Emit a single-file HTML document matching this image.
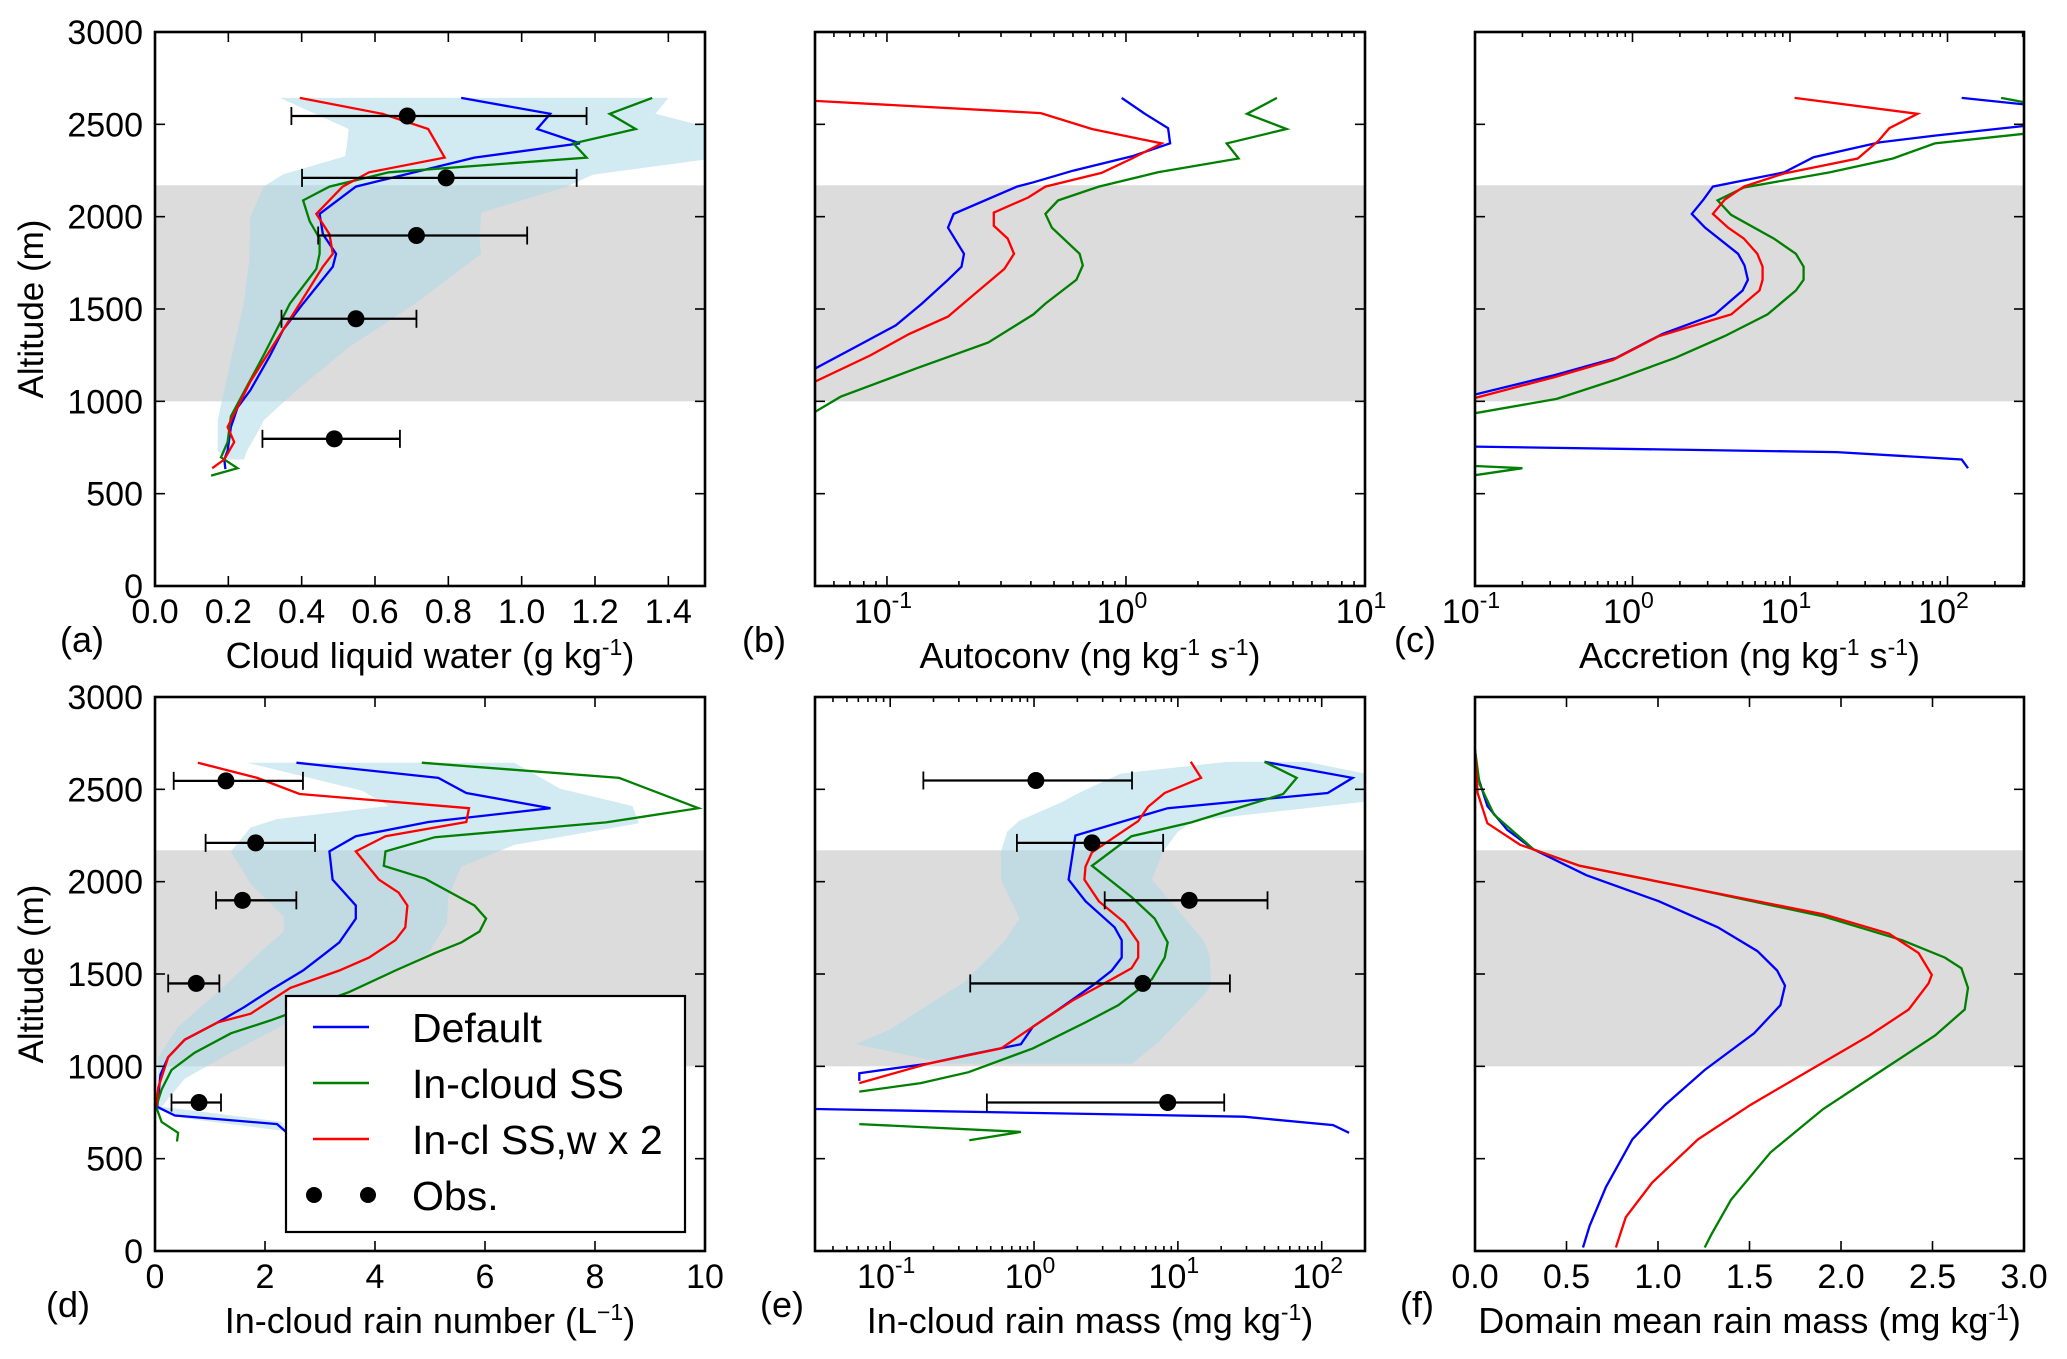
<!DOCTYPE html>
<html><head><meta charset="utf-8">
<style>
html,body{margin:0;padding:0;background:#fff;}
svg{display:block;font-family:"Liberation Sans","DejaVu Sans",sans-serif;}
</style></head>
<body>
<svg id="fig" width="2067" height="1359" viewBox="0 0 2067 1359" xmlns="http://www.w3.org/2000/svg"></svg>
<script>
// ---------- Panel (a) cloud liquid water ----------
const aBlueAlt=[2643,2557,2475,2397,2320,2163,2015,1905,1799,1729,1529,1389,1248,1060,966,861,732,685,633];
const aBlueVal=[0.835,1.078,1.042,1.159,0.871,0.548,0.449,0.458,0.494,0.485,0.404,0.350,0.314,0.260,0.225,0.207,0.198,0.189,0.192];
const aRedAlt=[2643,2557,2475,2320,2240,2163,2015,1905,1799,1729,1529,1389,1248,1107,861,779,685,638];
const aRedVal=[0.395,0.620,0.745,0.790,0.584,0.512,0.440,0.476,0.485,0.458,0.395,0.350,0.305,0.260,0.198,0.216,0.189,0.156];
const aGreenAlt=[2643,2557,2475,2397,2320,2240,2163,2088,1975,1881,1799,1717,1623,1529,1248,919,779,697,638,598];
const aGreenVal=[1.356,1.240,1.311,1.141,1.177,0.638,0.476,0.404,0.422,0.449,0.449,0.440,0.404,0.368,0.296,0.207,0.198,0.180,0.225,0.153];
const aShadeLoAlt=[2643,2475,2397,2327,2230,2163,1998,1764,1529,1295,1060,896,732,685];
const aShadeLo=[0.341,0.528,0.524,0.519,0.350,0.296,0.260,0.257,0.242,0.215,0.189,0.171,0.171,0.198];
const aShadeHiAlt=[2643,2557,2463,2322,2228,2163,2022,1881,1799,1717,1529,1295,1060,896,826,732,685];
const aShadeHi=[1.40,1.365,1.55,1.55,1.195,1.123,0.89,0.885,0.889,0.835,0.710,0.530,0.386,0.296,0.278,0.251,0.242];
const aObsAlt=[2545,2210,1898,1447,797];
const aObsVal=[0.688,0.794,0.713,0.548,0.489];
const aObsLo=[0.372,0.401,0.445,0.345,0.293];
const aObsHi=[1.177,1.150,1.015,0.713,0.668];
const aTicks=["0.0","0.2","0.4","0.6","0.8","1.0","1.2","1.4"];
// ---------- Panel (b) autoconversion ----------
const bRedAlt=[2627,2561,2475,2397,2315,2237,2163,2104,2022,1951,1881,1799,1717,1576,1459,1365,1248,1107];
const bRedVal=[0.050,0.44,0.72,1.41,1.06,0.79,0.46,0.39,0.28,0.28,0.32,0.34,0.31,0.23,0.18,0.124,0.085,0.050];
const bBlueAlt=[2643,2557,2479,2397,2327,2249,2186,2163,2015,1940,1799,1729,1658,1529,1412,1295,1177];
const bBlueVal=[0.96,1.20,1.50,1.53,1.06,0.60,0.41,0.35,0.19,0.18,0.21,0.205,0.18,0.14,0.109,0.074,0.050];
const bGreenAlt=[2643,2557,2475,2397,2315,2240,2163,2088,2015,1940,1799,1736,1658,1529,1471,1318,1177,1025,943];
const bGreenVal=[4.28,3.21,4.70,2.64,2.96,1.36,0.77,0.52,0.46,0.49,0.64,0.66,0.62,0.46,0.41,0.265,0.132,0.064,0.050];
// ---------- Panel (c) accretion ----------
const cRedAlt=[2643,2557,2479,2409,2315,2233,2163,2092,2015,1940,1881,1799,1729,1658,1600,1471,1353,1224,1131,1018];
const cRedVal=[10.7,64.6,42.7,36.3,26.9,9.1,5.1,3.85,3.24,4.05,5.1,6.2,6.7,6.7,6.4,4.24,1.47,0.75,0.32,0.10];
const cBlueAlt=[2643,2608,2560,2491,2439,2402,2322,2240,2163,2092,2015,1940,1799,1736,1658,1600,1471,1365,1236,1142,1037,900,755,725,685,638];
const cBlueVal=[123,306,null,306,83,37,14.1,9.2,3.24,2.82,2.38,2.89,4.68,5.14,5.4,5.0,3.34,1.55,0.79,0.32,0.10,null,0.10,19.8,123,135];
const cGreenAlt=[2643,2620,2540,2449,2397,2315,2240,2158,2088,2010,1881,1799,1729,1658,1600,1471,1353,1236,1119,1013,936,800,650,638,600];
const cGreenVal=[219,306,null,306,83,45,18,5.1,3.47,4.22,7.9,10.9,12.2,12.2,10.9,7.2,3.85,1.87,0.79,0.33,0.10,null,0.10,0.20,0.10];
// ---------- Panel (d) rain number ----------
const dBlueAlt=[2644,2562,2480,2398,2323,2246,2164,2011,1871,1800,1671,1601,1519,1413,1320,1238,1144,1050,956,781,734,687,640];
const dBlueVal=[2.57,5.15,5.66,7.19,4.97,3.65,3.17,3.23,3.65,3.65,3.35,3.05,2.69,2.10,1.62,1.14,0.54,0.24,0.10,0.04,0.36,2.22,2.40];
const dRedAlt=[2644,2562,2475,2398,2323,2246,2164,2011,1941,1871,1753,1683,1589,1519,1425,1285,1238,1144,1050,886,781];
const dRedVal=[0.78,1.86,2.63,5.71,5.66,4.19,3.65,4.07,4.43,4.59,4.55,4.37,3.89,3.35,2.46,1.74,1.14,0.54,0.24,0.06,0.02];
const dGreenAlt=[2644,2562,2398,2321,2241,2164,2086,2016,1871,1800,1730,1671,1613,1519,1402,1249,1179,1074,980,874,781,699,640,593];
const dGreenVal=[4.85,8.44,9.88,8.20,5.09,4.19,4.16,4.91,5.81,6.02,5.90,5.57,5.09,4.37,3.53,2.10,1.38,0.72,0.30,0.12,0.02,0.12,0.42,0.40];
const dShadeLoAlt=[2644,2492,2410,2339,2293,2164,1988,1812,1730,1636,1402,1214,1050,769,720,652];
const dShadeLo=[1.68,3.77,4.25,2.21,1.74,1.38,1.74,2.34,2.34,1.98,1.14,0.42,0.06,0.02,0.5,2.3];
const dShadeHiAlt=[2644,2503,2410,2316,2199,2081,1917,1777,1613,1449,1261,1074,933,781,700,652];
const dShadeHi=[6.53,7.37,8.68,8.80,6.53,5.57,5.33,5.31,4.97,3.89,2.57,1.38,0.54,0.12,2.3,2.4];
const dObsAlt=[2546,2210,1899,1449,804];
const dObsVal=[1.29,1.83,1.59,0.75,0.80];
const dObsLo=[0.34,0.92,1.11,0.24,0.30];
const dObsHi=[2.69,2.91,2.57,1.17,1.20];
const dTicks=["0","2","4","6","8","10"];
// ---------- Panel (e) rain mass ----------
const eBlueAlt=[2649,2562,2480,2398,2250,2011,1894,1753,1683,1589,1519,1449,1308,1214,1120,1062,1015,963,921,850,769,727,682,640];
const eBlueVal=[40,164,110,8.5,1.94,1.74,2.28,3.63,4.07,4.07,3.47,2.67,1.48,0.98,0.81,0.35,0.184,0.061,0.061,null,0.03,28.8,120,155];
const eRedAlt=[2649,2562,2480,2405,2328,2159,2081,2011,1894,1777,1671,1589,1531,1472,1355,1214,1097,1015,909];
const eRedVal=[12.3,14.5,8.1,6.2,5.3,2.53,2.28,2.24,2.82,4.27,5.3,5.3,4.76,3.47,1.84,0.98,0.59,0.184,0.061];
const eGreenAlt=[2649,2562,2475,2321,2246,2086,1917,1800,1671,1589,1472,1331,1238,1097,968,909,863,780,687,645,600];
const eGreenVal=[40,67,54,12.4,4.76,2.53,4.76,6.9,8.5,8.1,6.6,3.86,2.28,0.98,0.35,0.163,0.061,null,0.061,0.81,0.355];
const eShadeAlt=[2649,2585,2480,2433,2330,2270,2164,2011,1800,1683,1600,1449,1400,1200,1120,1015];
const eShadeLo=[21.9,4.0,2.04,1.58,0.79,0.65,0.59,0.59,0.79,0.63,0.50,0.32,0.25,0.10,0.058,0.25];
const eShadeHi=[79,200,200,200,12.9,10,7.9,6.6,11.2,15.1,16.6,17,15.8,8.9,7.1,4.8];
const eObsAlt=[2548,2210,1899,1449,804];
const eObsVal=[1.03,2.53,12,5.7,8.5];
const eObsLo=[0.17,0.76,3.1,0.36,0.47];
const eObsHi=[4.8,7.9,42,23,21];
// ---------- Panel (f) domain mean rain mass ----------
const fBlueAlt=[2714,2574,2410,2281,2175,2035,1894,1753,1624,1519,1437,1331,1179,980,792,605,347,136,19];
const fBlueVal=[0,0.014,0.068,0.176,0.32,0.608,1.004,1.327,1.543,1.651,1.694,1.669,1.525,1.255,1.04,0.86,0.716,0.626,0.59];
const fRedAlt=[2714,2480,2316,2199,2086,1964,1824,1718,1613,1495,1449,1308,1167,980,792,605,370,183,19];
const fRedVal=[0,0.014,0.068,0.248,0.572,1.183,1.903,2.263,2.424,2.496,2.478,2.37,2.155,1.831,1.507,1.219,0.968,0.824,0.77];
const fGreenAlt=[2714,2527,2363,2175,2086,1964,1812,1683,1589,1531,1425,1308,1167,980,769,534,277,89,19];
const fGreenVal=[0,0.025,0.104,0.32,0.572,1.183,1.903,2.334,2.568,2.658,2.694,2.676,2.514,2.227,1.903,1.615,1.399,1.291,1.255];
const fTicks=["0.0","0.5","1.0","1.5","2.0","2.5","3.0"];
const yTicks=[0,500,1000,1500,2000,2500,3000];
const bandLow=1000, bandHigh=2170;

const NS="http://www.w3.org/2000/svg";
const svg=document.getElementById('fig');
function el(tag,attrs,parent){const e=document.createElementNS(NS,tag);for(const k in attrs)e.setAttribute(k,attrs[k]);(parent||svg).appendChild(e);return e;}

function makePanel(id,x0,x1,y0,y1,log,dmin,dmax){
  const p={id,x0,x1,y0,y1,log,dmin,dmax};
  p.sx=v=>log? x0+(Math.log10(v)-Math.log10(dmin))/(Math.log10(dmax)-Math.log10(dmin))*(x1-x0) : x0+(v-dmin)/(dmax-dmin)*(x1-x0);
  p.sy=a=>y1-a/3000*(y1-y0);
  p.g=el('g',{});
  
  
  const cp=el('clipPath',{id:'clip-'+id},p.g);
  el('rect',{x:x0,y:y0,width:x1-x0,height:y1-y0},cp);
  p.inner=el('g',{'clip-path':'url(#clip-'+id+')'},p.g);
  const band=el('rect',{x:x0,y:p.sy(bandHigh),width:x1-x0,height:p.sy(bandLow)-p.sy(bandHigh),fill:'#dcdcdc'},p.inner);
  
  
  return p;
}
function shade(p,loAlt,lo,hiAlt,hi){
  let pts=[];
  for(let i=0;i<lo.length;i++)pts.push(p.sx(lo[i])+','+p.sy(loAlt[i]));
  for(let i=hi.length-1;i>=0;i--)pts.push(p.sx(hi[i])+','+p.sy(hiAlt[i]));
  const s=el('polygon',{points:pts.join(' '),fill:'#add8e6','fill-opacity':0.55},p.inner);
  
  
}
function series(p,alt,val,color,name){
  let d='',pen=false;
  for(let i=0;i<val.length;i++){
    if(val[i]===null){pen=false;continue;}
    d+=(pen?'L':'M')+p.sx(val[i]).toFixed(1)+' '+p.sy(alt[i]).toFixed(1)+' ';pen=true;
  }
  const l=el('path',{d,fill:'none',stroke:color,'stroke-width':2.3,'stroke-linejoin':'miter'},p.inner);
  
  
}
function obs(p,alt,val,lo,hi){
  for(let i=0;i<val.length;i++){
    const y=p.sy(alt[i]);
    const g=el('g',{},p.inner);
    
    
    el('line',{x1:p.sx(lo[i]),x2:p.sx(hi[i]),y1:y,y2:y,stroke:'#000','stroke-width':2.3},g);
    el('line',{x1:p.sx(lo[i]),x2:p.sx(lo[i]),y1:y-9,y2:y+9,stroke:'#000','stroke-width':1.8},g);
    el('line',{x1:p.sx(hi[i]),x2:p.sx(hi[i]),y1:y-9,y2:y+9,stroke:'#000','stroke-width':1.8},g);
    el('circle',{cx:p.sx(val[i]),cy:y,r:8.5,fill:'#000'},g);
  }
}
function frame(p,xTickVals,xLabels,showY,label,labelParts,panelLetter,letterX){
  const g=p.g;
  el('rect',{x:p.x0,y:p.y0,width:p.x1-p.x0,height:p.y1-p.y0,fill:'none',stroke:'#000','stroke-width':2.6},g);
  yTicks.forEach(a=>{
    const y=p.sy(a);
    el('line',{x1:p.x0,x2:p.x0+10,y1:y,y2:y,stroke:'#000','stroke-width':1.6},g);
    el('line',{x1:p.x1,x2:p.x1-10,y1:y,y2:y,stroke:'#000','stroke-width':1.6},g);
    if(showY){
      const t=el('text',{x:143,y:y+12,'font-size':34,'text-anchor':'end'},g);
      t.textContent=String(a);
      
      
    }
  });
  const lblY=p.y1+37;
  if(p.log){
    const lmin=Math.log10(p.dmin),lmax=Math.log10(p.dmax);
    for(let e=Math.floor(lmin);e<=Math.ceil(lmax);e++){
      for(let m=1;m<10;m++){
        const v=m*Math.pow(10,e);
        if(Math.log10(v)<lmin-1e-6||Math.log10(v)>lmax+1e-6)continue;
        const x=p.sx(v),len=m===1?10:5;
        el('line',{x1:x,x2:x,y1:p.y1,y2:p.y1-len,stroke:'#000','stroke-width':1.6},g);
        el('line',{x1:x,x2:x,y1:p.y0,y2:p.y0+len,stroke:'#000','stroke-width':1.6},g);
      }
    }
    xTickVals.forEach((v,i)=>{
      const t=el('text',{x:p.sx(v)-4,y:lblY,'font-size':34,'text-anchor':'middle'},g);
      
      
      t.appendChild(document.createTextNode('10'));
      const s=el('tspan',{dy:-15,'font-size':23},t);s.textContent=xLabels[i];
    });
  } else {
    xTickVals.forEach((v,i)=>{
      const x=p.sx(v);
      el('line',{x1:x,x2:x,y1:p.y1,y2:p.y1-10,stroke:'#000','stroke-width':1.6},g);
      el('line',{x1:x,x2:x,y1:p.y0,y2:p.y0+10,stroke:'#000','stroke-width':1.6},g);
      const t=el('text',{x:x,y:lblY,'font-size':34,'text-anchor':'middle'},g);
      t.textContent=xLabels[i];
      
      
    });
  }
  const xl=el('text',{x:(p.x0+p.x1)/2,y:p.y1+82,'font-size':36,'text-anchor':'middle'},g);
  
  
  labelParts.forEach(part=>{
    const s=el('tspan',part[1]?{dy:part[1],'font-size':part[1]<0?23:36}:{},xl);s.textContent=part[0];
  });
  const pl=el('text',{x:letterX,y:p.y1+66,'font-size':36},g);
  pl.textContent=panelLetter;
  
  
  if(showY){
    const yc=(p.y0+p.y1)/2;
    const yl=el('text',{x:0,y:0,'font-size':35,'text-anchor':'middle',transform:`translate(43,${yc}) rotate(-90)`},g);
    yl.textContent='Altitude (m)';
    
    
  }
}
const gkg=[["Cloud liquid water (g kg"],["-1",-13],[")",13]];
const ngks=(w)=>[[w+" (ng kg"],["-1",-13],[" s",13],["-1",-13],[")",13]];

const pa=makePanel('a',155,705,32,586,false,0,1.5);
shade(pa,aShadeLoAlt,aShadeLo,aShadeHiAlt,aShadeHi);
series(pa,aBlueAlt,aBlueVal,'#0000ff','default-line');
series(pa,aGreenAlt,aGreenVal,'#008000','in-cloud-ss-line');
series(pa,aRedAlt,aRedVal,'#ff0000','in-cl-ss-w2-line');
obs(pa,aObsAlt,aObsVal,aObsLo,aObsHi);
frame(pa,[0,0.2,0.4,0.6,0.8,1.0,1.2,1.4],aTicks,true,'',gkg,'(a)',60);

const pb=makePanel('b',815,1365,32,586,true,0.05,10);
series(pb,bBlueAlt,bBlueVal,'#0000ff','default-line');
series(pb,bGreenAlt,bGreenVal,'#008000','in-cloud-ss-line');
series(pb,bRedAlt,bRedVal,'#ff0000','in-cl-ss-w2-line');
frame(pb,[0.1,1,10],["-1","0","1"],false,'',ngks('Autoconv'),'(b)',742);

const pc=makePanel('c',1475,2024,32,586,true,0.1,306);
series(pc,cBlueAlt,cBlueVal,'#0000ff','default-line');
series(pc,cGreenAlt,cGreenVal,'#008000','in-cloud-ss-line');
series(pc,cRedAlt,cRedVal,'#ff0000','in-cl-ss-w2-line');
frame(pc,[0.1,1,10,100],["-1","0","1","2"],false,'',ngks('Accretion'),'(c)',1394);

const pd=makePanel('d',155,705,697,1251,false,0,10);
shade(pd,dShadeLoAlt,dShadeLo,dShadeHiAlt,dShadeHi);
series(pd,dBlueAlt,dBlueVal,'#0000ff','default-line');
series(pd,dGreenAlt,dGreenVal,'#008000','in-cloud-ss-line');
series(pd,dRedAlt,dRedVal,'#ff0000','in-cl-ss-w2-line');
obs(pd,dObsAlt,dObsVal,dObsLo,dObsHi);
frame(pd,[0,2,4,6,8,10],dTicks,true,'',[["In-cloud rain number (L"],["\u22121",-13],[")",13]],'(d)',46);

const pe=makePanel('e',815,1365,697,1251,true,0.03,200);
shade(pe,eShadeAlt,eShadeLo,eShadeAlt,eShadeHi);
series(pe,eBlueAlt,eBlueVal,'#0000ff','default-line');
series(pe,eGreenAlt,eGreenVal,'#008000','in-cloud-ss-line');
series(pe,eRedAlt,eRedVal,'#ff0000','in-cl-ss-w2-line');
obs(pe,eObsAlt,eObsVal,eObsLo,eObsHi);
frame(pe,[0.1,1,10,100],["-1","0","1","2"],false,'',[["In-cloud rain mass (mg kg"],["-1",-13],[")",13]],'(e)',760);

const pf=makePanel('f',1475,2024,697,1251,false,0,3);
series(pf,fBlueAlt,fBlueVal,'#0000ff','default-line');
series(pf,fGreenAlt,fGreenVal,'#008000','in-cloud-ss-line');
series(pf,fRedAlt,fRedVal,'#ff0000','in-cl-ss-w2-line');
frame(pf,[0,0.5,1,1.5,2,2.5,3],fTicks,false,'',[["Domain mean rain mass (mg kg"],["-1",-13],[")",13]],'(f)',1400);

const lg=el('g',{});


el('rect',{x:286,y:996,width:399,height:236,fill:'#fff',stroke:'#000','stroke-width':2.2},lg);
const legNames=["Default","In-cloud SS","In-cl SS,w x 2","Obs."];
const legColors=['#0000ff','#008000','#ff0000',null];
const legRows=[1027,1083,1139,1195];
legNames.forEach((n,i)=>{
  const y=legRows[i];
  const ge=el('g',{},lg);
  
  
  if(legColors[i]) el('line',{x1:313,x2:369,y1:y,y2:y,stroke:legColors[i],'stroke-width':2.5},ge);
  else {el('circle',{cx:314,cy:y,r:8,fill:'#000'},ge);el('circle',{cx:368,cy:y,r:8,fill:'#000'},ge);}
  const t=el('text',{x:412,y:y+15,'font-size':41},ge);t.textContent=n;
});
</script>
</body></html>
